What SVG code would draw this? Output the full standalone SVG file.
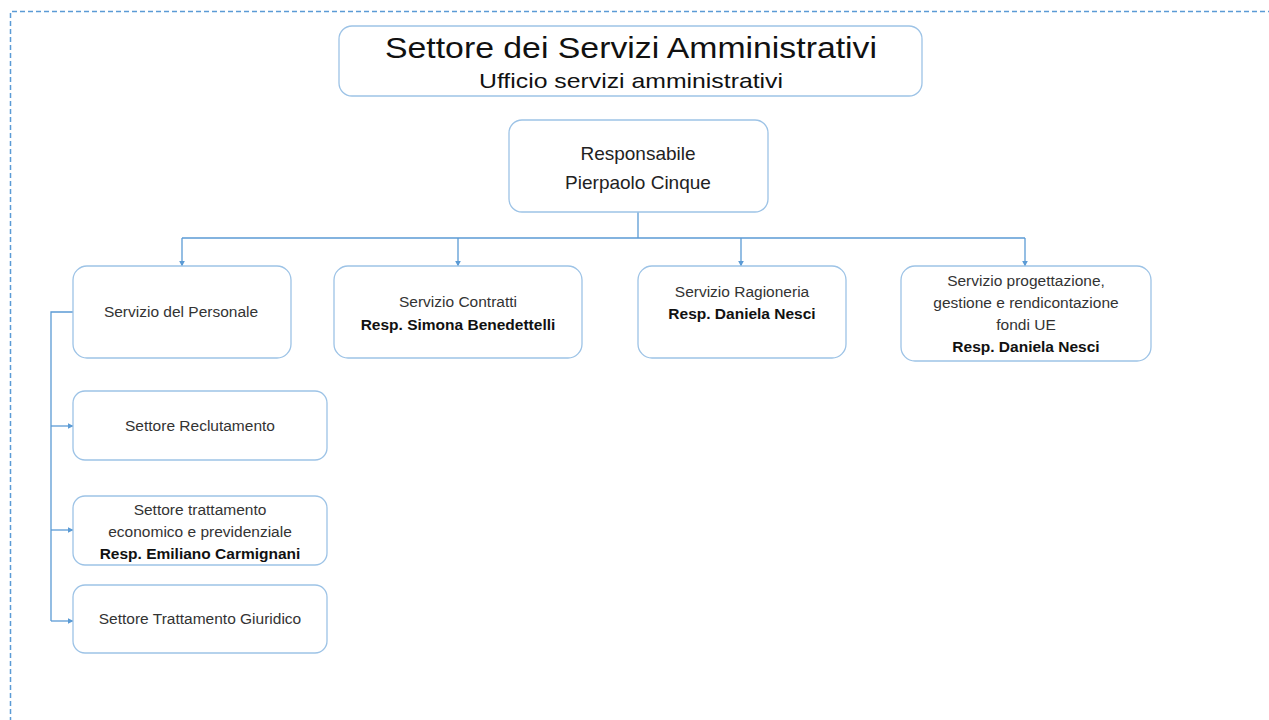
<svg xmlns="http://www.w3.org/2000/svg" width="1269" height="720" viewBox="0 0 1269 720">
<defs>
<style>
.box{fill:#fff;stroke:#9dc3e6;stroke-width:1.3}
.t{font-family:"Liberation Sans",Arial,sans-serif;fill:#333;text-anchor:middle}
.s{font-size:15.5px}
.b{font-weight:bold;fill:#111}
.c{fill:none;stroke:#5b9bd5;stroke-width:1.3}
</style>
<marker id="ah" viewBox="0 0 10 10" refX="9" refY="5" markerWidth="6" markerHeight="6" orient="auto" markerUnits="userSpaceOnUse">
<path d="M0,0 L10,5 L0,10 z" fill="#5b9bd5"/>
</marker>
</defs>
<rect x="0" y="0" width="1269" height="720" fill="#fff"/>
<path d="M10.5,730 V11.5 H1280" fill="none" stroke="#5b9bd5" stroke-width="1.5" stroke-dasharray="5,3"/>

<g id="connectors">
<path class="c" d="M638,212 V238 M182,238 H1025"/>
<path class="c" d="M182,238 V266" marker-end="url(#ah)"/>
<path class="c" d="M458,238 V266" marker-end="url(#ah)"/>
<path class="c" d="M741,238 V266" marker-end="url(#ah)"/>
<path class="c" d="M1025,238 V266" marker-end="url(#ah)"/>
<path class="c" d="M73,312 H51 V621"/>
<path class="c" d="M51,426 H73" marker-end="url(#ah)"/>
<path class="c" d="M51,530 H73" marker-end="url(#ah)"/>
<path class="c" d="M51,621 H73" marker-end="url(#ah)"/>
</g>

<g id="title">
<rect class="box" x="339" y="26" width="583" height="70" rx="13"/>
<text class="t" x="631" y="58" font-size="30" style="fill:#111" textLength="492" lengthAdjust="spacingAndGlyphs">Settore dei Servizi Amministrativi</text>
<text class="t" x="631" y="88" font-size="21" style="fill:#111" textLength="304" lengthAdjust="spacingAndGlyphs">Ufficio servizi amministrativi</text>
</g>

<g id="responsabile">
<rect class="box" x="509" y="120" width="259" height="92" rx="13"/>
<text class="t" x="638" y="160" font-size="19" style="fill:#222">Responsabile</text>
<text class="t" x="638" y="189" font-size="19" style="fill:#222">Pierpaolo Cinque</text>
</g>

<g id="personale">
<rect class="box" x="73" y="266" width="218" height="92" rx="14"/>
<text class="t s" x="181" y="317">Servizio del Personale</text>
</g>

<g id="contratti">
<rect class="box" x="334" y="266" width="248" height="92" rx="14"/>
<text class="t s" x="458" y="307">Servizio Contratti</text>
<text class="t s b" x="458" y="330">Resp. Simona Benedettelli</text>
</g>

<g id="ragioneria">
<rect class="box" x="638" y="266" width="208" height="92" rx="14"/>
<text class="t s" x="742" y="297">Servizio Ragioneria</text>
<text class="t s b" x="742" y="319">Resp. Daniela Nesci</text>
</g>

<g id="progettazione">
<rect class="box" x="901" y="266" width="250" height="95" rx="14"/>
<text class="t s" x="1026" y="286">Servizio progettazione,</text>
<text class="t s" x="1026" y="308">gestione e rendicontazione</text>
<text class="t s" x="1026" y="330">fondi UE</text>
<text class="t s b" x="1026" y="352">Resp. Daniela Nesci</text>
</g>

<g id="reclutamento">
<rect class="box" x="73" y="391" width="254" height="69" rx="12"/>
<text class="t s" x="200" y="431">Settore Reclutamento</text>
</g>

<g id="economico">
<rect class="box" x="73" y="496" width="254" height="69" rx="12"/>
<text class="t s" x="200" y="515">Settore trattamento</text>
<text class="t s" x="200" y="537">economico e previdenziale</text>
<text class="t s b" x="200" y="559">Resp. Emiliano Carmignani</text>
</g>

<g id="giuridico">
<rect class="box" x="73" y="585" width="254" height="68" rx="12"/>
<text class="t s" x="200" y="624">Settore Trattamento Giuridico</text>
</g>
</svg>
